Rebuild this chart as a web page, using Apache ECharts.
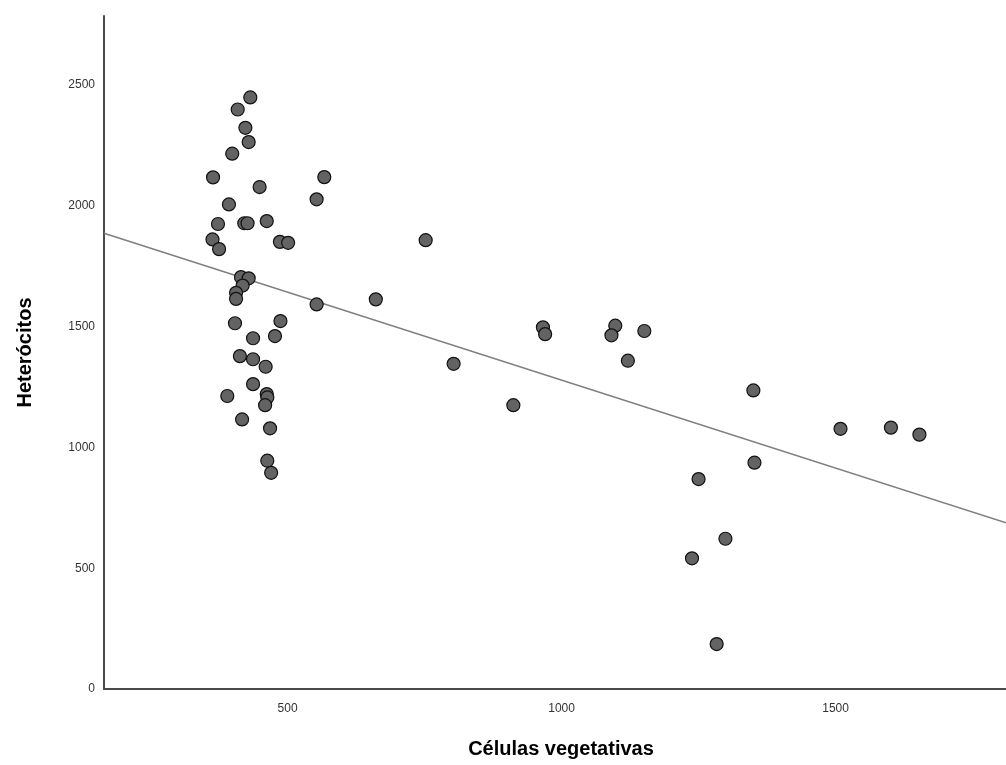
<!DOCTYPE html>
<html>
<head>
<meta charset="utf-8">
<script src="https://cdn.jsdelivr.net/npm/echarts@6/dist/echarts.min.js"></script>
<style>
  html, body { margin: 0; padding: 0; background: #fff; }
  #main { width: 1006px; height: 765px; }
</style>
</head>
<body>
<div id="main"></div>
<script>
// Células vegetativas (x) vs Heterócitos (y)
var celulasVeg = [432, 409, 423, 429, 399, 364, 567, 449, 553, 393,
                  373, 421, 427, 462, 363, 375, 486, 501, 415, 429,
                  418, 406, 406, 553, 404, 487, 437, 477, 413, 437,
                  460, 437, 390, 462, 463, 459, 417, 468, 463, 470,
                  752, 661, 803, 966, 970, 1098, 1091, 1151, 1121, 912,
                  1350, 1509, 1601, 1653, 1352, 1250, 1299, 1238, 1283];
var heterocitos = [2449, 2399, 2323, 2264, 2216, 2118, 2119, 2078, 2027, 2006,
                   1925, 1928, 1928, 1937, 1861, 1821, 1851, 1847, 1705, 1700,
                   1670, 1640, 1615, 1592, 1514, 1523, 1452, 1461, 1378, 1365,
                   1334, 1262, 1213, 1221, 1207, 1175, 1116, 1079, 945, 895,
                   1858, 1613, 1346, 1497, 1469, 1504, 1464, 1482, 1359, 1175,
                   1236, 1077, 1082, 1053, 937, 869, 622, 541, 186];

// recta de ajuste (extremos del eje)
var ajusteX = [165, 1811];
var ajusteY = [1887, 688];

var xTicks = [500, 1000, 1500];
var yTicks = [0, 500, 1000, 1500, 2000, 2500];

var puntos = [];
for (var i = 0; i < celulasVeg.length; i++) {
    puntos.push([celulasVeg[i], heterocitos[i]]);
}
var linea = [];
for (var j = 0; j < ajusteX.length; j++) {
    linea.push([ajusteX[j], ajusteY[j]]);
}

function sinComa(v) {
    return String(v);
}

var myChart = echarts.init(document.getElementById('main'));
var option = {
    backgroundColor: '#ffffff',
    animation: false,
    grid: {
        left: 104, right: 0, top: 16, bottom: 76
    },
    xAxis: {
        type: 'value',
        min: 165,
        max: 1811,
        name: 'Células vegetativas',
        nameLocation: 'middle',
        nameGap: 50,
        nameTextStyle: {
            fontFamily: 'Liberation Sans', fontSize: 20, fontWeight: 'bold', color: '#000',
            padding: [0, 0, 0, 12]
        },
        axisLine: { show: true, lineStyle: { color: '#4a4a4a', width: 2 } },
        axisTick: { show: false },
        splitLine: { show: false },
        axisLabel: {
            customValues: xTicks,
            formatter: sinComa,
            margin: 14,
            fontFamily: 'Liberation Sans', fontSize: 12, color: '#333'
        }
    },
    yAxis: {
        type: 'value',
        min: 0,
        max: 2786,
        name: 'Heterócitos',
        nameLocation: 'middle',
        nameGap: 69,
        nameTextStyle: {
            fontFamily: 'Liberation Sans', fontSize: 20, fontWeight: 'bold', color: '#000'
        },
        axisLine: { show: true, lineStyle: { color: '#4a4a4a', width: 2 } },
        axisTick: { show: false },
        splitLine: { show: false },
        axisLabel: {
            customValues: yTicks,
            formatter: sinComa,
            margin: 9,
            fontFamily: 'Liberation Sans', fontSize: 12, color: '#333'
        }
    },
    series: [
        {
            name: 'ajuste',
            type: 'line',
            data: linea,
            symbol: 'none',
            z: 1,
            lineStyle: { color: '#7f7f7f', width: 1.5 }
        },
        {
            name: 'datos',
            type: 'scatter',
            data: puntos,
            symbolSize: 13,
            z: 2,
            itemStyle: { color: '#636363', borderColor: '#111', borderWidth: 1.2, opacity: 1 }
        }
    ]
};
myChart.setOption(option);
</script>
</body>
</html>
